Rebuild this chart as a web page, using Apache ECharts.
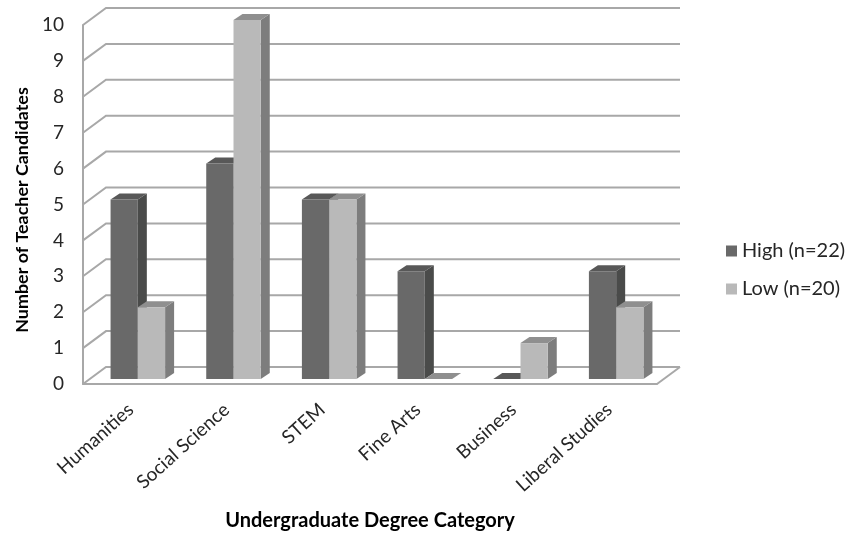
<!DOCTYPE html>
<html>
<head>
<meta charset="utf-8">
<style>html,body{margin:0;padding:0;background:#fff}#chart{width:847px;height:533px}</style>
<script src="https://cdn.jsdelivr.net/npm/echarts@6/dist/echarts.min.js"></script>
</head>
<body>
<div id="chart"></div>
<script>
const categories = ['Humanities', 'Social Science', 'STEM', 'Fine Arts', 'Business', 'Liberal Studies'];
const highValues = [5, 6, 5, 3, 0, 3];
const lowValues = [2, 10, 5, 0, 1, 2];
const yTicks = [0, 1, 2, 3, 4, 5, 6, 7, 8, 9, 10];

const FONT = 'Lato, "Open Sans", sans-serif';
const WALL_COLOR = '#a8a8a8';
// Pseudo-3D projection: offsets from the front plane of the chart box.
const WALL_DEPTH = [23, -17];
const BAR_PLANE = [7, -5];
const BAR_DEPTH = [9, -6];
const BAR_SHARE = 0.285;

// Each bar is three faces: front, side and top.
function barRenderer(sideSign, colors) {
  return function (params, api) {
    const base = api.coord([api.value(0), 0]);
    const top = api.coord([api.value(0), api.value(1)]);
    const w = api.size([1, 0])[0] * BAR_SHARE;
    const x0 = base[0] + BAR_PLANE[0] + (sideSign < 0 ? -w : 0);
    const x1 = x0 + w;
    const y0 = base[1] + BAR_PLANE[1];
    const y1 = top[1] + BAR_PLANE[1];
    const dx = BAR_DEPTH[0], dy = BAR_DEPTH[1];
    const face = (points, fill) => ({ type: 'polygon', shape: { points }, style: { fill } });
    return {
      type: 'group',
      children: [
        face([[x1, y0], [x1 + dx, y0 + dy], [x1 + dx, y1 + dy], [x1, y1]], colors.side),
        face([[x0, y1], [x0 + dx, y1 + dy], [x1 + dx, y1 + dy], [x1, y1]], colors.top),
        face([[x0, y0], [x1, y0], [x1, y1], [x0, y1]], colors.front)
      ]
    };
  };
}

// Gridlines run up the side wall and then along the back wall; the floor closes on the right.
function wallRenderer(params, api) {
  const rect = params.coordSys;
  const y = api.coord([0, api.value(1)])[1];
  const left = rect.x, right = rect.x + rect.width;
  const line = (points) => ({
    type: 'polyline',
    shape: { points },
    style: { stroke: WALL_COLOR, lineWidth: 2, fill: 'none' }
  });
  const children = [line([
    [left, y],
    [left + WALL_DEPTH[0], y + WALL_DEPTH[1]],
    [right + WALL_DEPTH[0], y + WALL_DEPTH[1]]
  ])];
  if (api.value(1) === 0) {
    children.push(line([[right, y], [right + WALL_DEPTH[0], y + WALL_DEPTH[1]]]));
  }
  return { type: 'group', children };
}

const chart = echarts.init(document.getElementById('chart'), null, { renderer: 'canvas' });
chart.setOption({
  animation: false,
  backgroundColor: '#fff',
  grid: { left: 83, right: 190, top: 25, bottom: 149, outerBoundsMode: 'none' },
  legend: {
    data: ['High (n=22)', 'Low (n=20)'],
    orient: 'vertical',
    left: 721,
    top: 236,
    itemWidth: 11,
    itemHeight: 11,
    itemGap: 18,
    icon: 'rect',
    textStyle: { fontFamily: FONT, fontSize: 20, color: '#262626' }
  },
  xAxis: {
    type: 'category',
    data: categories,
    axisLine: { show: true, lineStyle: { color: WALL_COLOR, width: 2 } },
    axisTick: { show: false },
    axisLabel: { rotate: 42, margin: 23, interval: 0, fontFamily: FONT, fontSize: 19, color: '#262626' },
    name: 'Undergraduate Degree Category',
    nameLocation: 'middle',
    nameGap: 127,
    nameTextStyle: { fontFamily: FONT, fontSize: 20, fontWeight: 'bold', color: '#000' }
  },
  yAxis: {
    type: 'value',
    min: 0,
    max: 10,
    interval: 1,
    axisLine: { show: true, lineStyle: { color: WALL_COLOR, width: 2 } },
    axisTick: { show: false },
    splitLine: { show: false },
    axisLabel: { margin: 19, fontFamily: FONT, fontSize: 19, color: '#262626' },
    name: 'Number of Teacher Candidates',
    nameLocation: 'middle',
    nameGap: 52,
    nameTextStyle: { fontFamily: FONT, fontSize: 17.9, fontWeight: 'bold', color: '#000', padding: [0, 11, 0, 0] }
  },
  series: [
    {
      name: 'walls',
      type: 'custom',
      z: 1,
      silent: true,
      renderItem: wallRenderer,
      encode: { x: 0, y: 1 },
      data: yTicks.map((t) => [0, t])
    },
    {
      name: 'High (n=22)',
      type: 'custom',
      z: 2,
      itemStyle: { color: '#696969' },
      renderItem: barRenderer(-1, { front: '#696969', side: '#4a4b4a', top: '#585858' }),
      encode: { x: 0, y: 1 },
      data: highValues.map((v, i) => [i, v])
    },
    {
      name: 'Low (n=20)',
      type: 'custom',
      z: 3,
      itemStyle: { color: '#b9b9b9' },
      renderItem: barRenderer(1, { front: '#b9b9b9', side: '#7d7d7d', top: '#8f8f8f' }),
      encode: { x: 0, y: 1 },
      data: lowValues.map((v, i) => [i, v])
    }
  ]
});
</script>
</body>
</html>
